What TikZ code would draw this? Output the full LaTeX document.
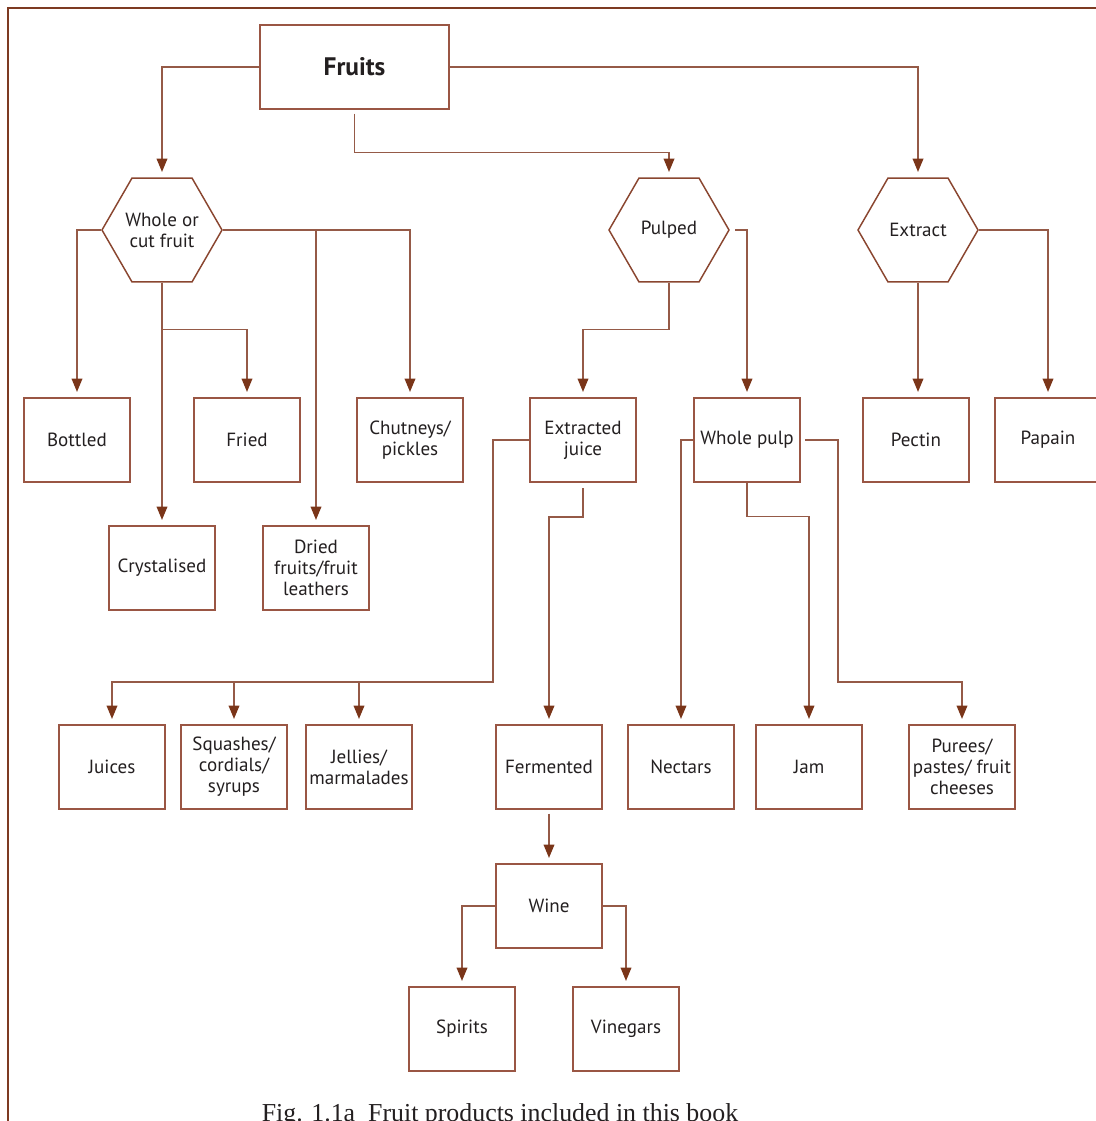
\documentclass[tikz,border=0pt]{standalone}
\usepackage{fontspec}
\usetikzlibrary{arrows.meta,shapes.geometric,calc}
\newfontfamily\bodyfont{PT Sans}
\newfontfamily\capfont{Liberation Serif}
\definecolor{linec}{HTML}{955A47}
\definecolor{arrc}{HTML}{7A3519}
\definecolor{boxc}{HTML}{9A5644}
\definecolor{hexc}{HTML}{8A4630}
\definecolor{framec}{HTML}{7D3A22}
\definecolor{txtc}{HTML}{231F20}
\begin{document}
\begin{tikzpicture}[x=0.75pt,y=-0.75pt,
  box/.style={draw=boxc, line width=1.1pt, minimum width=79.5pt, minimum height=63pt,
    inner sep=1pt, align=center, text=txtc, font=\bodyfont\fontsize{14.3}{15.75}\selectfont},
  hexa/.style={regular polygon, regular polygon sides=6, minimum size=90pt, draw=hexc,
    line width=1.1pt, inner sep=0pt, align=center, text=txtc,
    font=\bodyfont\fontsize{14.3}{15.75}\selectfont},
  link/.style={draw=linec, line width=1.1pt, shorten >=4pt,
    -{Triangle[length=10pt,width=8pt,color=arrc]}}]
\useasboundingbox (0,0) rectangle (1096,1121);
\clip (0,0) rectangle (1096,1121);

% frame
\draw[framec, line width=2.2pt] (8,1140) -- (8,8) -- (1110,8);

% top level
\node[box, minimum width=141.75pt, font=\bodyfont\bfseries\fontsize{19}{22}\selectfont] (fruits) at (354.5,67) {Fruits};

% processing routes
\node[hexa] (whole)   at (162,230) {\raisebox{-5.5pt}[0pt][0pt]{\begin{tabular}{@{}c@{}}Whole or\\cut fruit\end{tabular}}};
\node[hexa] (pulped)  at (669,230) {Pulped};
\node[hexa] (extract) at (918,230) {Extract};

% first row of products
\node[box] (bottled) at (77,440)   {Bottled};
\node[box] (fried)   at (247,440)  {Fried};
\node[box] (chut)    at (410,440)  {Chutneys/\\pickles};
\node[box] (ejuice)  at (583,440)  {Extracted\\juice};
\node[box] (wpulp)   at (747,440)  {Whole pulp};
\node[box] (pectin)  at (916,440)  {Pectin};
\node[box] (papain)  at (1048,440) {Papain};

% second row
\node[box] (crystal) at (162,568) {Crystalised};
\node[box] (dried)   at (316,568) {Dried\\fruits/fruit\\leathers};

% third row
\node[box] (juices) at (112,767) {Juices};
\node[box] (squash) at (234,767) {Squashes/\\cordials/\\syrups};
\node[box] (jelly)  at (359,767) {Jellies/\\marmalades};
\node[box] (ferm)   at (549,767) {Fermented};
\node[box] (nectar) at (681,767) {Nectars};
\node[box] (jam)    at (809,767) {Jam};
\node[box] (puree)  at (962,767) {Purees/\\pastes/ fruit\\cheeses};

% fermentation chain
\node[box] (wine)     at (549,906)  {Wine};
\node[box] (spirits)  at (462,1029) {Spirits};
\node[box] (vinegars) at (626,1029) {Vinegars};

% caption
\node[anchor=base, text=txtc, font=\capfont\fontsize{19.4}{22}\selectfont, inner sep=0pt] (caption) at (500,1121)
  {Fig. 1.1a\enspace Fruit products included in this book};

% connectors from the top box
\draw[link] (fruits.west) -| (whole.north);
\draw[link] ([yshift=-3pt]fruits.south) -- ++(0,39) -| (pulped.north);
\draw[link] (fruits.east) -| (extract.north);

% whole or cut fruit
\draw[link] (whole.west) -| (bottled.north);
\draw[link] (whole.south) -- ++(0,47) -| (fried.north);
\draw[link] (whole.south) -- (whole.south |- crystal.north);
\draw[link] (whole.east) -| (chut.north);
\draw[link] (whole.east) -| (dried.north);

% pulped
\draw[link] (pulped.south) -- ++(0,47) -| (ejuice.north);
\draw[link] ([xshift=4pt]pulped.east) -| (wpulp.north);

% extract
\draw[link] (extract.south) -- (extract.south |- pectin.north);
\draw[link] (extract.east) -| (papain.north);

% extracted juice
\coordinate (jbar) at (493,682);
\draw[link] (ejuice.west) -| (jbar) -| (juices.north);
\draw[link] (squash.north |- jbar) -- (squash.north);
\draw[link] (jelly.north |- jbar) -- (jelly.north);
\draw[link] ([yshift=-4pt]ejuice.south) -- ++(0,29) -| (ferm.north);

% whole pulp
\coordinate (pbar) at (838,682);
\draw[link] (wpulp.west) -| (nectar.north);
\draw[link] (wpulp.south) -- ++(0,34) -| (jam.north);
\draw[link] ([xshift=3.5pt]wpulp.east) -| (pbar) -| (puree.north);

% fermentation
\draw[link] ([yshift=-3pt]ferm.south) -- (wine.north);
\draw[link] (wine.west) -| (spirits.north);
\draw[link] (wine.east) -| (vinegars.north);
\end{tikzpicture}
\end{document}
